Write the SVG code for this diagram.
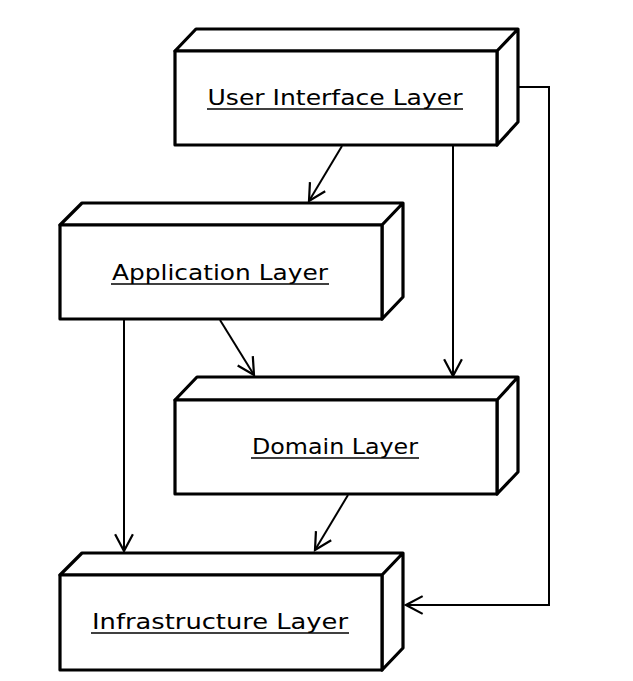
<svg xmlns="http://www.w3.org/2000/svg" width="633" height="681" viewBox="0 0 633 681">
<style>
.box{fill:#fff;stroke:#000;stroke-width:3.2;stroke-linejoin:round}
.lbl{font-family:"DejaVu Sans","Liberation Sans",sans-serif;font-size:22px;fill:#000;text-anchor:middle}
.ul{stroke:#000;stroke-width:1.5}
.conn{fill:none;stroke:#000;stroke-width:2}
</style>
<defs>
<marker id="arr" markerUnits="userSpaceOnUse" markerWidth="20" markerHeight="20" viewBox="-16 -9 18 18" refX="0" refY="0" orient="auto">
<path d="M-15,-8 L0,0 L-15,8" fill="none" stroke="#000" stroke-width="2"/>
</marker>
</defs>
<rect width="633" height="681" fill="#fff"/>
<g id="connectors">
<path class="conn" d="M342,146 L309,201" marker-end="url(#arr)"/>
<path class="conn" d="M453,146 L453,376" marker-end="url(#arr)"/>
<path class="conn" d="M519,87 L549,87 L549,605 L406,605" marker-end="url(#arr)"/>
<path class="conn" d="M220,320 L254,375" marker-end="url(#arr)"/>
<path class="conn" d="M124,320 L124,551" marker-end="url(#arr)"/>
<path class="conn" d="M348,495 L315,550" marker-end="url(#arr)"/>
</g>
<g id="ui">
<path class="box" d="M175,51 L196,29 L518,29 L518,122 L497,145 L497,51 Z M497,51 L518,29"/>
<rect class="box" x="175" y="51" width="322" height="94"/>
<text class="lbl" x="335" y="105" textLength="255" lengthAdjust="spacingAndGlyphs">User Interface Layer</text>
<line class="ul" x1="207" y1="109" x2="463" y2="109"/>
</g>
<g id="app">
<path class="box" d="M60,225 L82,203 L403,203 L403,297 L382,319 L382,225 Z M382,225 L403,203"/>
<rect class="box" x="60" y="225" width="322" height="94"/>
<text class="lbl" x="220" y="280" textLength="216" lengthAdjust="spacingAndGlyphs">Application Layer</text>
<line class="ul" x1="111" y1="284" x2="329" y2="284"/>
</g>
<g id="domain">
<path class="box" d="M175,400 L197,377 L518,377 L518,472 L497,494 L497,400 Z M497,400 L518,377"/>
<rect class="box" x="175" y="400" width="322" height="94"/>
<text class="lbl" x="335" y="454" textLength="166" lengthAdjust="spacingAndGlyphs">Domain Layer</text>
<line class="ul" x1="251" y1="458" x2="419" y2="458"/>
</g>
<g id="infra">
<path class="box" d="M60,575 L82,553 L403,553 L403,648 L382,670 L382,575 Z M382,575 L403,553"/>
<rect class="box" x="60" y="575" width="322" height="95"/>
<text class="lbl" x="220" y="629" textLength="256" lengthAdjust="spacingAndGlyphs">Infrastructure Layer</text>
<line class="ul" x1="91" y1="633" x2="349" y2="633"/>
</g>
</svg>
